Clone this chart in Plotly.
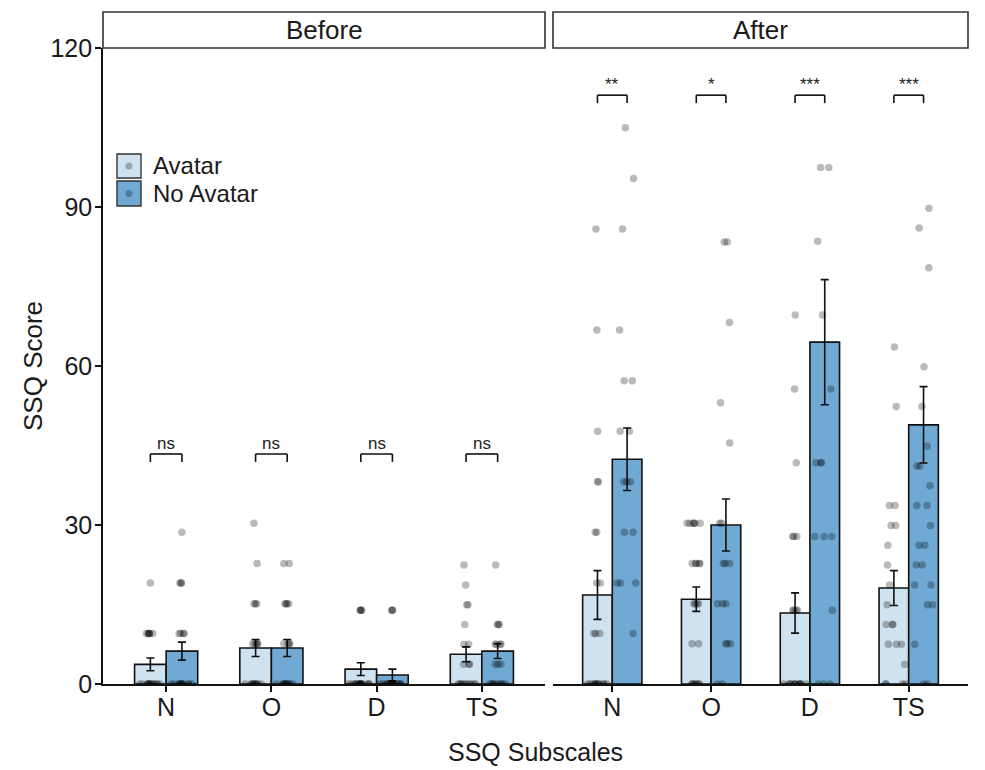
import plotly.graph_objects as go

categories = ["N", "O", "D", "TS"]
groups = ["Avatar", "No Avatar"]
phases = ["Before", "After"]

# bar means and standard errors
before_avatar_mean = [3.7, 6.8, 2.8, 5.6]
before_avatar_se = [1.2, 1.6, 1.2, 1.4]
before_noavatar_mean = [6.2, 6.8, 1.7, 6.2]
before_noavatar_se = [1.7, 1.6, 1.1, 1.4]
after_avatar_mean = [16.8, 16.0, 13.4, 18.1]
after_avatar_se = [4.6, 2.3, 3.8, 3.3]
after_noavatar_mean = [42.4, 30.0, 64.5, 48.9]
after_noavatar_se = [5.9, 4.9, 11.8, 7.2]

# individual scores (SSQ subscale scores are discrete multiples of the weights)
before_avatar_pts = {
    "N": [0] * 13 + [9.54] * 6 + [19.08],
    "O": [0] * 10 + [7.58] * 5 + [15.16] * 3 + [22.74, 30.32],
    "D": [0] * 16 + [13.92] * 4,
    "TS": [0] * 10 + [3.74] * 3 + [7.48] * 2 + [11.22] + [14.96] * 2 + [18.7, 22.44],
}
before_noavatar_pts = {
    "N": [0] * 12 + [9.54] * 4 + [19.08] * 3 + [28.62],
    "O": [0] * 10 + [7.58] * 4 + [15.16] * 4 + [22.74] * 2,
    "D": [0] * 17 + [13.92] * 3,
    "TS": [0] * 9 + [3.74] * 3 + [7.48] * 4 + [11.22] * 3 + [22.44],
}
after_avatar_pts = {
    "N": [0] * 12 + [9.54] * 3 + [19.08] * 2 + [28.62] * 2 + [38.16] * 2 + [47.7, 66.78, 85.86],
    "O": [0] * 7 + [7.58] * 2 + [15.16] * 4 + [22.74] * 5 + [30.32] * 6,
    "D": [0] * 12 + [13.92] * 4 + [27.84] * 3 + [41.76, 55.68, 69.6],
    "TS": [0] * 4 + [3.74] + [7.48] * 3 + [11.22] * 3 + [14.96, 18.7, 22.44, 26.18]
          + [29.92] * 2 + [33.66] * 2 + [52.36, 63.58],
}
after_noavatar_pts = {
    "N": [9.54] + [19.08] * 3 + [28.62] * 2 + [38.16] * 3 + [47.7] * 2 + [57.24] * 2
         + [66.78, 85.86, 95.4, 104.94],
    "O": [0] * 2 + [7.58] * 3 + [15.16] * 3 + [22.74] * 3 + [30.32] * 2 + [45.48, 53.06, 68.22]
         + [83.38] * 2,
    "D": [0] * 3 + [13.92] + [27.84] * 3 + [41.76] * 3 + [55.68, 69.6, 83.52] + [97.44] * 2,
    "TS": [0] * 2 + [7.48] + [14.96] * 2 + [18.7] * 2 + [22.44] * 2 + [26.18] * 2 + [29.92]
          + [33.66] * 2 + [37.4] + [41.14] * 2 + [44.88] + [52.36, 59.84, 78.54, 86.02, 89.76],
}

before_sig = ["ns", "ns", "ns", "ns"]
after_sig = ["**", "*", "***", "***"]
before_bracket_y = 43.4
after_bracket_y = 111.1

y_ticks = [0, 30, 60, 90, 120]

# ---------------------------------------------------------------- style
FONT = "Liberation Sans, Arial, sans-serif"
COL_AV = "#cfe2f0"
COL_NA = "#6fa9d4"
PT_COL = "rgba(0,0,0,0.27)"
TXT = "#1a1a1a"
W, H = 985, 770
OFF = 8  # page offset of the figure (body margin)
# desired plot area on the page: x 103..968, y 48..684
L = 103 - OFF
T = 48 - OFF
R = W - (968 - OFF)
B = H - (684 - OFF)
pw = W - L - R
ph = H - T - B

def px_x(px):
    return (px - OFF - L) / pw

def px_y(py):
    return (H - B - (py - OFF)) / ph

dom1 = [0, px_x(545)]
dom2 = [px_x(553), 1]

fig = go.Figure()

data = [
    ("x", "y", [before_avatar_mean, before_noavatar_mean], [before_avatar_se, before_noavatar_se],
     [before_avatar_pts, before_noavatar_pts]),
    ("x2", "y2", [after_avatar_mean, after_noavatar_mean], [after_avatar_se, after_noavatar_se],
     [after_avatar_pts, after_noavatar_pts]),
]
colors = [COL_AV, COL_NA]

for xa, ya, means, ses, ptsets in data:
    for gi, g in enumerate(groups):
        fig.add_trace(go.Bar(
            x=categories, y=means[gi], name=g, xaxis=xa, yaxis=ya,
            marker=dict(color=colors[gi], line=dict(color="#111111", width=1.6)),
            error_y=dict(type="data", array=ses[gi], color="#111111", thickness=1.6, width=4),
            showlegend=False, offsetgroup=str(gi),
        ))
    for gi, g in enumerate(groups):
        xs, ys = [], []
        for c in categories:
            xs += [c] * len(ptsets[gi][c])
            ys += ptsets[gi][c]
        fig.add_trace(go.Box(
            x=xs, y=ys, name=g, xaxis=xa, yaxis=ya,
            boxpoints="all", jitter=0.8, pointpos=0,
            fillcolor="rgba(0,0,0,0)", line=dict(width=0, color="rgba(0,0,0,0)"),
            marker=dict(color=PT_COL, size=7.5),
            showlegend=False, offsetgroup=str(gi), hoverinfo="skip",
        ))

shapes = []
annotations = []

# significance brackets
for xref, yref, sig, yb in [("x", "y", before_sig, before_bracket_y),
                            ("x2", "y2", after_sig, after_bracket_y)]:
    for i, s in enumerate(sig):
        x0, x1 = i - 0.15, i + 0.15
        ln = dict(color="#111111", width=1.6)
        shapes.append(dict(type="line", xref=xref, yref=yref, x0=x0, x1=x1, y0=yb, y1=yb, line=ln))
        shapes.append(dict(type="line", xref=xref, yref=yref, x0=x0, x1=x0, y0=yb, y1=yb - 1.5, line=ln))
        shapes.append(dict(type="line", xref=xref, yref=yref, x0=x1, x1=x1, y0=yb, y1=yb - 1.5, line=ln))
        annotations.append(dict(xref=xref, yref=yref, x=i, y=yb, text=s, showarrow=False,
                                xanchor="center", yanchor="bottom", yshift=-1,
                                font=dict(family=FONT, size=17, color="#222222")))

# facet strips
strip_top = px_y(12)
for dom, lab in [(dom1, phases[0]), (dom2, phases[1])]:
    shapes.append(dict(type="rect", xref="paper", yref="paper", x0=dom[0], x1=dom[1],
                       y0=1, y1=strip_top, fillcolor="white",
                       line=dict(color="#333333", width=1.6)))
    annotations.append(dict(xref="paper", yref="paper", x=(dom[0] + dom[1]) / 2,
                            y=(1 + strip_top) / 2, text=lab, showarrow=False,
                            xanchor="center", yanchor="middle",
                            font=dict(family=FONT, size=26, color=TXT)))

# legend (drawn manually to mimic ggplot key with point overlay)
for gi, (g, y0p, y1p) in enumerate([(groups[0], 154, 178), (groups[1], 181, 206)]):
    shapes.append(dict(type="rect", xref="paper", yref="paper",
                       x0=px_x(117), x1=px_x(141), y0=px_y(y1p), y1=px_y(y0p),
                       fillcolor=colors[gi], line=dict(color="#333333", width=1.4)))
    cy = (y0p + y1p) / 2
    shapes.append(dict(type="circle", xref="paper", yref="paper",
                       x0=px_x(129 - 3.5), x1=px_x(129 + 3.5), y0=px_y(cy + 3.5), y1=px_y(cy - 3.5),
                       fillcolor=PT_COL, line=dict(width=0)))
    annotations.append(dict(xref="paper", yref="paper", x=px_x(151), y=px_y(cy), text=g,
                            showarrow=False, xanchor="left", yanchor="middle",
                            font=dict(family=FONT, size=24, color=TXT)))

# axis titles
annotations.append(dict(xref="paper", yref="paper", x=px_x(33), y=px_y(366), text="SSQ Score",
                        textangle=-90, showarrow=False, xanchor="center", yanchor="middle",
                        font=dict(family=FONT, size=26, color=TXT)))
annotations.append(dict(xref="paper", yref="paper", x=px_x(535), y=px_y(752), text="SSQ Subscales",
                        showarrow=False, xanchor="center", yanchor="middle",
                        font=dict(family=FONT, size=25, color=TXT)))

xaxis_common = dict(type="category", range=[-0.6, 3.6], showline=True, linecolor="#111111",
                    linewidth=1.6, ticks="outside", ticklen=6, tickwidth=1.6, tickcolor="#111111",
                    showgrid=False, zeroline=False, ticklabelstandoff=-6,
                    tickfont=dict(family=FONT, size=25, color=TXT),
                    categoryorder="array", categoryarray=categories)

fig.update_layout(
    width=W, height=H,
    margin=dict(l=L, r=R, t=T, b=B, autoexpand=False),
    plot_bgcolor="white", paper_bgcolor="white",
    barmode="group", bargap=0.4, bargroupgap=0,
    boxmode="group", boxgap=0.4, boxgroupgap=0,
    xaxis=dict(domain=dom1, anchor="y", **xaxis_common),
    xaxis2=dict(domain=dom2, anchor="y2", **xaxis_common),
    yaxis=dict(range=[0, 120], tickvals=y_ticks, showline=True, linecolor="#111111", linewidth=1.6,
               ticks="outside", ticklen=6, tickwidth=1.6, tickcolor="#111111", showgrid=False,
               zeroline=False, tickfont=dict(family=FONT, size=25, color=TXT), anchor="x",
               ticklabelstandoff=-2),
    yaxis2=dict(range=[0, 120], tickvals=y_ticks, showline=False, showticklabels=False,
                ticks="", showgrid=False, zeroline=False, anchor="x2", matches="y"),
    shapes=shapes, annotations=annotations,
    showlegend=False,
    font=dict(family=FONT),
)

fig.write_html("out.html")
